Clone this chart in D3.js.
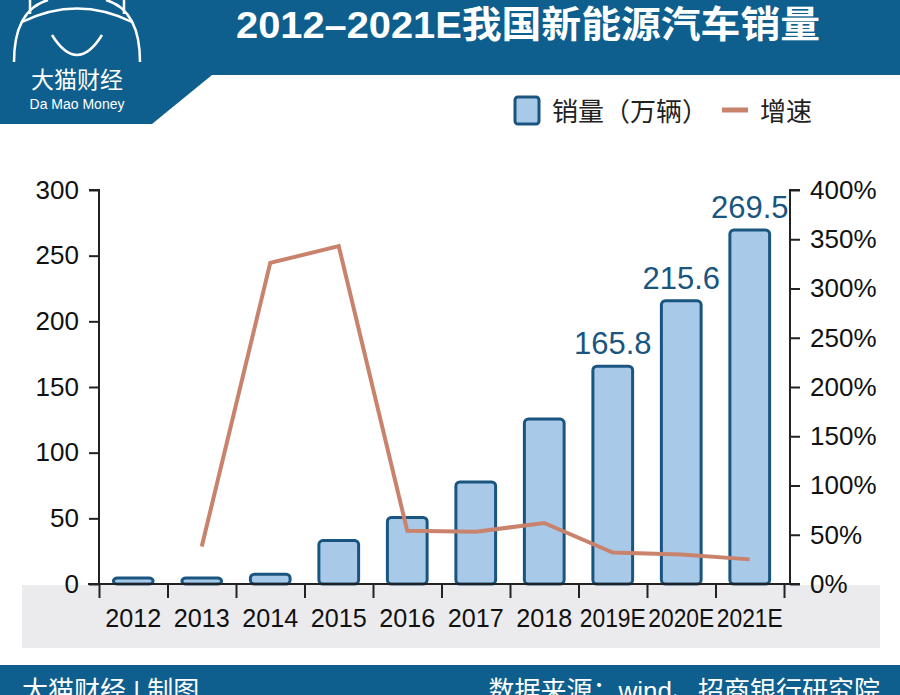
<!DOCTYPE html>
<html><head><meta charset="utf-8">
<script src="https://cdn.jsdelivr.net/npm/d3@7"></script>
<style>body{margin:0;background:#fff}svg{display:block;font-family:"Liberation Sans","Noto Sans CJK SC",sans-serif}</style>
</head><body><svg id="c" width="900" height="695"></svg>
<script>
const years = ["2012","2013","2014","2015","2016","2017","2018","2019E","2020E","2021E"];
const sales = [1.3, 1.8, 7.5, 33.1, 50.7, 77.7, 125.6, 165.8, 215.6, 269.5];
const growth = [null, 38, 326, 343, 54, 53, 62, 32, 30, 25];
const leftTicks = [0, 50, 100, 150, 200, 250, 300];
const rightTicks = [0, 50, 100, 150, 200, 250, 300, 350, 400];
const labelled = ["2019E","2020E","2021E"];

const blue = "#0e5f8e", dark = "#1a5580", fill = "#a8cae8", lineC = "#c9826c";
const svg = d3.select("#c");

// header
svg.append("rect").attr("x",0).attr("y",0).attr("width",900).attr("height",75).attr("fill",blue);
svg.append("path").attr("d","M0,75 L212,75 L152,124 L0,124 Z").attr("fill",blue);
svg.append("text").attr("x",528).attr("y",38).attr("text-anchor","middle").attr("fill","#fff")
  .attr("font-size",37).attr("font-weight","bold").attr("textLength",584).attr("lengthAdjust","spacingAndGlyphs")
  .text("2012–2021E我国新能源汽车销量");
// logo
const lg = svg.append("g").attr("fill","none").attr("stroke","#fff").attr("stroke-width",2.5);
lg.append("path").attr("d","M14,62 Q14,10 48,0");
lg.append("path").attr("d","M140,62 Q140,10 106,0");
lg.append("path").attr("d","M22,22 Q77,-5 132,22");
lg.append("path").attr("d","M52,35 Q77,75 102,35");
lg.append("path").attr("d","M30,14 L30,0 M124,14 L124,0");
svg.append("text").attr("x",77).attr("y",88).attr("text-anchor","middle").attr("fill","#fff").attr("font-size",23).text("大猫财经");
svg.append("text").attr("x",77).attr("y",109).attr("text-anchor","middle").attr("fill","#fff").attr("font-size",14).text("Da Mao Money");

// legend
svg.append("rect").attr("x",515).attr("y",97).attr("width",24).attr("height",27).attr("rx",3).attr("fill",fill).attr("stroke",dark).attr("stroke-width",3);
svg.append("text").attr("x",552).attr("y",121).attr("font-size",26).attr("fill","#222").text("销量（万辆）");
svg.append("line").attr("x1",722).attr("x2",748).attr("y1",110).attr("y2",110).attr("stroke",lineC).attr("stroke-width",5);
svg.append("text").attr("x",760).attr("y",121).attr("font-size",26).attr("fill","#222").text("增速");

// grey band
svg.append("rect").attr("x",22).attr("y",585).attr("width",858).attr("height",63).attr("fill","#ebebed");

const x = d3.scaleBand().domain(years).range([99,784]).paddingInner(0.42).paddingOuter(0.21);
const y = d3.scaleLinear().domain([0,300]).range([584,190]);
const y2 = d3.scaleLinear().domain([0,400]).range([584,190]);

svg.selectAll(".bar").data(years).join("rect")
  .attr("x",d=>x(d)).attr("width",x.bandwidth())
  .attr("y",(d,i)=>Math.min(y(sales[i]),578)).attr("height",(d,i)=>584-Math.min(y(sales[i]),578))
  .attr("rx",4).attr("fill",fill).attr("stroke",dark).attr("stroke-width",3);

const line = d3.line().defined(d=>d[1]!==null).x(d=>x(d[0])+x.bandwidth()/2).y(d=>y2(d[1]));
svg.append("path").datum(years.map((d,i)=>[d,growth[i]])).attr("d",line)
  .attr("fill","none").attr("stroke",lineC).attr("stroke-width",4);

svg.selectAll(".lab").data(labelled).join("text")
  .attr("x",d=>x(d)+x.bandwidth()/2).attr("y",d=>y(sales[years.indexOf(d)])-12)
  .attr("text-anchor","middle").attr("fill",dark).attr("font-size",31).text(d=>sales[years.indexOf(d)]);

// axes
const gl = svg.append("g").attr("transform","translate(99,0)")
  .call(d3.axisLeft(y).tickValues(leftTicks).tickSize(10).tickPadding(10));
const gr = svg.append("g").attr("transform","translate(790,0)")
  .call(d3.axisRight(y2).tickValues(rightTicks).tickSize(10).tickPadding(10).tickFormat(d=>d+"%"));
const xt = d3.scaleLinear().domain([0,years.length]).range([99,784]);
const gx = svg.append("g").attr("transform","translate(0,584)")
  .call(d3.axisBottom(xt).tickValues(d3.range(years.length+1)).tickSize(14).tickFormat(""));
gx.select(".domain").attr("d","M88,0H798");
svg.selectAll(".xl").data(years).join("text").attr("x",d=>x(d)+x.bandwidth()/2).attr("y",627)
  .attr("text-anchor","middle").attr("font-size",26).attr("fill","#111")
  .attr("textLength",d=>d.length>4?66:56).attr("lengthAdjust","spacingAndGlyphs").text(d=>d);
[gl,gr,gx].forEach(g=>{g.selectAll("path,line").attr("stroke","#222").attr("stroke-width",2);
  g.selectAll("text").attr("font-size",26).attr("fill","#111");});
gl.select(".domain").attr("d","M-10,584H0V190H-10");
gr.select(".domain").attr("d","M10,584H0V190H10");

// footer
svg.append("rect").attr("x",0).attr("y",665).attr("width",900).attr("height",30).attr("fill",blue);
svg.append("text").attr("x",22).attr("y",700).attr("fill","#fff").attr("font-size",26).text("大猫财经 | 制图");
svg.append("text").attr("x",880).attr("y",700).attr("text-anchor","end").attr("fill","#fff").attr("font-size",26).text("数据来源：wind、招商银行研究院");
</script></body></html>
